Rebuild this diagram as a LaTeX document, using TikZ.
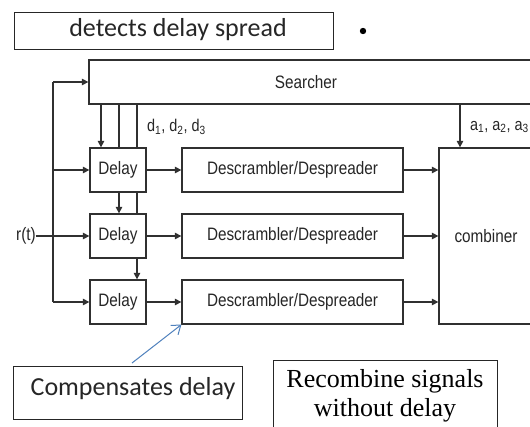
\documentclass[tikz,border=0pt]{standalone}
\usepackage{fontspec}
\setmainfont{Liberation Serif}
\setsansfont{Liberation Sans}
\newfontfamily\calibrifont{Carlito}
\newfontfamily\narrowsans[FakeStretch=0.85]{Liberation Sans}
\usetikzlibrary{arrows.meta}
\definecolor{linegray}{HTML}{303030}
\definecolor{noteblue}{HTML}{4F81BD}
\tikzset{
  blkfont/.style={font=\narrowsans\fontsize{18}{20}\selectfont, text=black!85},
  blk/.style={draw=linegray, line width=1.3pt, rectangle, inner sep=0pt, blkfont},
  note/.style={draw=black!85, line width=1pt, rectangle, inner sep=0pt},
  wire/.style={draw=linegray, line width=1.3pt},
  arr/.style={wire, -{Triangle[length=6.5pt,width=6.5pt]}},
  lbl/.style={font=\narrowsans\fontsize{17}{19}\selectfont, text=black!85, inner sep=0pt, anchor=west}
}
\begin{document}
\begin{tikzpicture}[x=1pt,y=-1pt]
\useasboundingbox (0,0) rectangle (530,426);
\clip (0,0) rectangle (530,426);
\fill[white] (0,0) rectangle (530,426);

% annotation boxes
\node[note, minimum width=319pt, minimum height=37pt] (spread) at (173.5,30.5) {};
\node[font=\calibrifont\fontsize{26}{30}\selectfont, text=black!85] (spreadtxt) at (178,30) {detects delay spread};
\fill[black] (363,31) circle (3.2pt);

% main blocks
\node[blk, minimum width=445pt, minimum height=44pt] (searcher) at (311.5,82) {};
\node[blkfont] (searchtxt) at (306,82) {Searcher};

\node[blk, minimum width=56pt, minimum height=44pt] (delay1) at (118,170) {Delay};
\node[blk, minimum width=56pt, minimum height=44pt] (delay2) at (118,236) {Delay};
\node[blk, minimum width=56pt, minimum height=44pt] (delay3) at (118,302) {Delay};

\node[blk, minimum width=221pt, minimum height=44pt] (desc1) at (292.5,170) {Descrambler/Despreader};
\node[blk, minimum width=221pt, minimum height=44pt] (desc2) at (292.5,236) {Descrambler/Despreader};
\node[blk, minimum width=221pt, minimum height=44pt] (desc3) at (292.5,302) {Descrambler/Despreader};

\node[blk, minimum width=94pt, minimum height=176pt] (combiner) at (486,236) {combiner};

\node[blkfont, inner sep=0pt] (rt) at (26,236) {r(t)};

% guide coordinates for the vertical wires
\coordinate (bus) at (53,0);
\coordinate (ca) at (101,0);
\coordinate (cb) at (119,0);
\coordinate (cc) at (137,0);
\coordinate (cw) at (460,0);

% input bus
\draw[wire] (rt.east) -- (bus |- rt.east);
\draw[wire] (bus |- searcher.west) -- (bus |- delay3.west);
\draw[arr] (bus |- searcher.west) -- (searcher.west);
\draw[arr] (bus |- delay1.west) -- (delay1.west);
\draw[arr] (rt.east) -- (delay2.west);
\draw[arr] (bus |- delay3.west) -- (delay3.west);

% delay values from the searcher
\draw[arr] (searcher.south -| ca) -- (delay1.north -| ca);
\draw[wire] (searcher.south -| cb) -- (delay1.north -| cb);
\draw[wire] (searcher.south -| cc) -- (delay1.north -| cc);
\draw[arr] (delay1.south -| cb) -- (delay2.north -| cb);
\draw[wire] (delay1.south -| cc) -- (delay2.north -| cc);
\draw[arr] (delay2.south -| cc) -- (delay3.north -| cc);
\node[lbl] (dlbl) at (147,127) {d\textsubscript{1}, d\textsubscript{2}, d\textsubscript{3}};

% weights to the combiner
\draw[arr] (searcher.south -| cw) -- (combiner.north -| cw);
\node[lbl] (albl) at (470,127) {a\textsubscript{1}, a\textsubscript{2}, a\textsubscript{3}};

% delay -> descrambler -> combiner
\foreach \i in {1,2,3} {
  \draw[arr] (delay\i.east) -- (desc\i.west);
  \draw[arr] (desc\i.east) -- (combiner.west |- desc\i.east);
}

% lower annotations
\node[note, minimum width=229pt, minimum height=53pt] (comp) at (127.5,392.5) {};
\node[font=\calibrifont\fontsize{26}{30}\selectfont, text=black!85] (comptxt) at (133,389) {Compensates delay};
\coordinate (comptip) at (132,363);
\draw[draw=noteblue, line width=1pt, -{Straight Barb[length=8pt,width=12pt]}] (comptip) -- (desc3.south west);

\node[note, minimum width=224pt, minimum height=80pt] (recomb) at (385,400) {};
\node[align=center, font=\fontsize{26}{29}\selectfont, text=black] (recombtxt) at (385,396) {Recombine signals\\without delay};
\end{tikzpicture}
\end{document}
